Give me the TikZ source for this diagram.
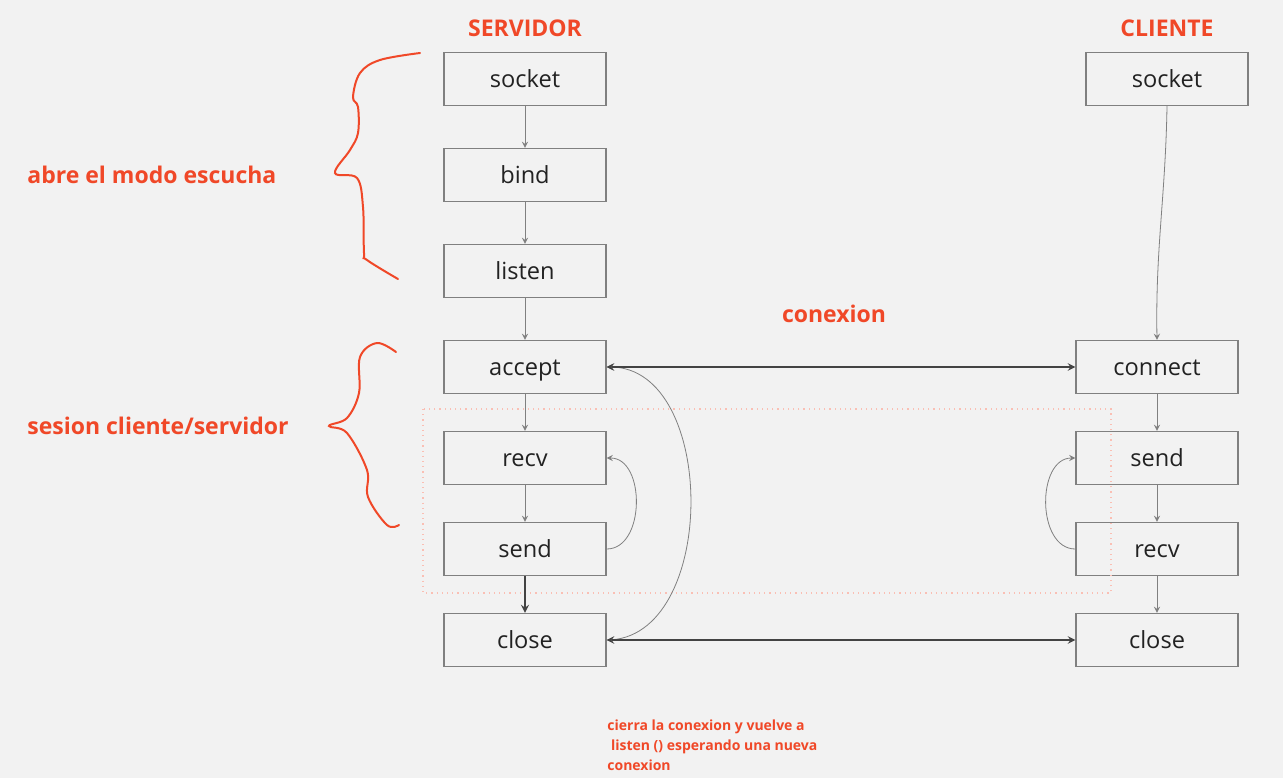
\documentclass[tikz,border=0pt]{standalone}
\usepackage{fontspec}
\setmainfont{Open Sans}
\usetikzlibrary{arrows}
\definecolor{bg}{RGB}{242,242,242}
\definecolor{note}{RGB}{240,72,40}
\definecolor{edge}{RGB}{128,128,128}
\definecolor{txt}{RGB}{34,34,34}

\begin{document}
\begin{tikzpicture}[
    x=0.5pt, y=-0.5pt,
    block/.style={rectangle, draw=edge, fill=bg, line width=0.6pt, minimum width=81pt, minimum height=26.5pt, inner sep=0pt, text height=0.88em, text depth=0em, text=txt, font=\fontsize{11.8}{14}\selectfont},
    title/.style={text=note, font=\bfseries\fontsize{11.5}{14}\selectfont},
    arrow/.style={->,>=stealth,draw=edge,line width=0.4pt},
    bigarrow/.style={<->,>=stealth,draw=txt!85,line width=0.7pt},
    brace/.style={draw=note, line width=1pt, line cap=round}
]

% Background and page size
\fill[bg] (0,0) rectangle (1283,778);
\useasboundingbox (0,0) rectangle (1283,778);

% Titles
\node[title] (servidor) at (525,28) {SERVIDOR};
\node[title] (cliente) at (1167,28) {CLIENTE};
\node[title] (conexion) at (834,314) {conexion};
\node[title, anchor=west, inner sep=0pt] (escucha) at (27,175) {abre el modo escucha};
\node[title, anchor=west, inner sep=0pt] (sesion) at (27,426) {sesion cliente/servidor};

% Server column
\node[block] (s_socket) at (525,79)  {socket};
\node[block] (s_bind)   at (525,175) {bind};
\node[block] (s_listen) at (525,271) {listen};
\node[block] (s_accept) at (525,367) {accept};
\node[block] (s_recv)   at (525,458) {recv};
\node[block] (s_send)   at (525,549) {send};
\node[block] (s_close)  at (525,640) {close};

% Client column
\node[block] (c_socket)  at (1167,79)  {socket};
\node[block] (c_connect) at (1157,367) {connect};
\node[block] (c_send)    at (1157,458) {send};
\node[block] (c_recv)    at (1157,549) {recv};
\node[block] (c_close)   at (1157,640) {close};

% Session area
\draw[note!35, dotted, line width=0.6pt] (423,409) rectangle (1111,593);

% Note below
\node[anchor=north west, align=left, text=note, font=\bfseries\fontsize{7}{10}\selectfont, inner sep=0pt] (nota) at (607,719)
  {cierra la conexion y vuelve a\\\ listen () esperando una nueva\\conexion};

% Server flow arrows
\foreach \a/\b in {s_socket/s_bind, s_bind/s_listen, s_listen/s_accept, s_accept/s_recv, s_recv/s_send}
  \draw[arrow] (\a) -- (\b);
\draw[->,>=stealth,draw=txt!85,line width=0.8pt] (s_send) -- (s_close);

% Client flow arrows
\draw[arrow] (c_socket.south) to[out=-91,in=91] (c_connect.north);
\foreach \a/\b in {c_connect/c_send, c_send/c_recv, c_recv/c_close}
  \draw[arrow] (\a) -- (\b);

% Loops
\draw[arrow] (s_send.east) to[out=0,in=0,looseness=1.1] (s_recv.east);
\draw[arrow] (c_recv.west) to[out=180,in=180,looseness=1.1] (c_send.west);
\draw[arrow] (s_close.east) to[out=0,in=0,looseness=1.05] (s_accept.east);

% Connection arrows
\draw[bigarrow] (s_accept.east) -- (c_connect.west);
\draw[bigarrow] (s_close.east) -- (c_close.west);

% Braces
\draw[brace] plot[smooth, tension=0.6] coordinates {(420,53) (380,60) (360,73) (353,97) (358,107) (358,133) (350,150) (335,173) (357,178) (363,207) (364,253) (367,260) (398,279)};
\draw[brace] plot[smooth, tension=0.6] coordinates {(396,352) (377,343) (360,357) (359,393) (347,418) (329,426) (347,433) (367,470) (368,497) (387,525) (399,525)};

\end{tikzpicture}
\end{document}
